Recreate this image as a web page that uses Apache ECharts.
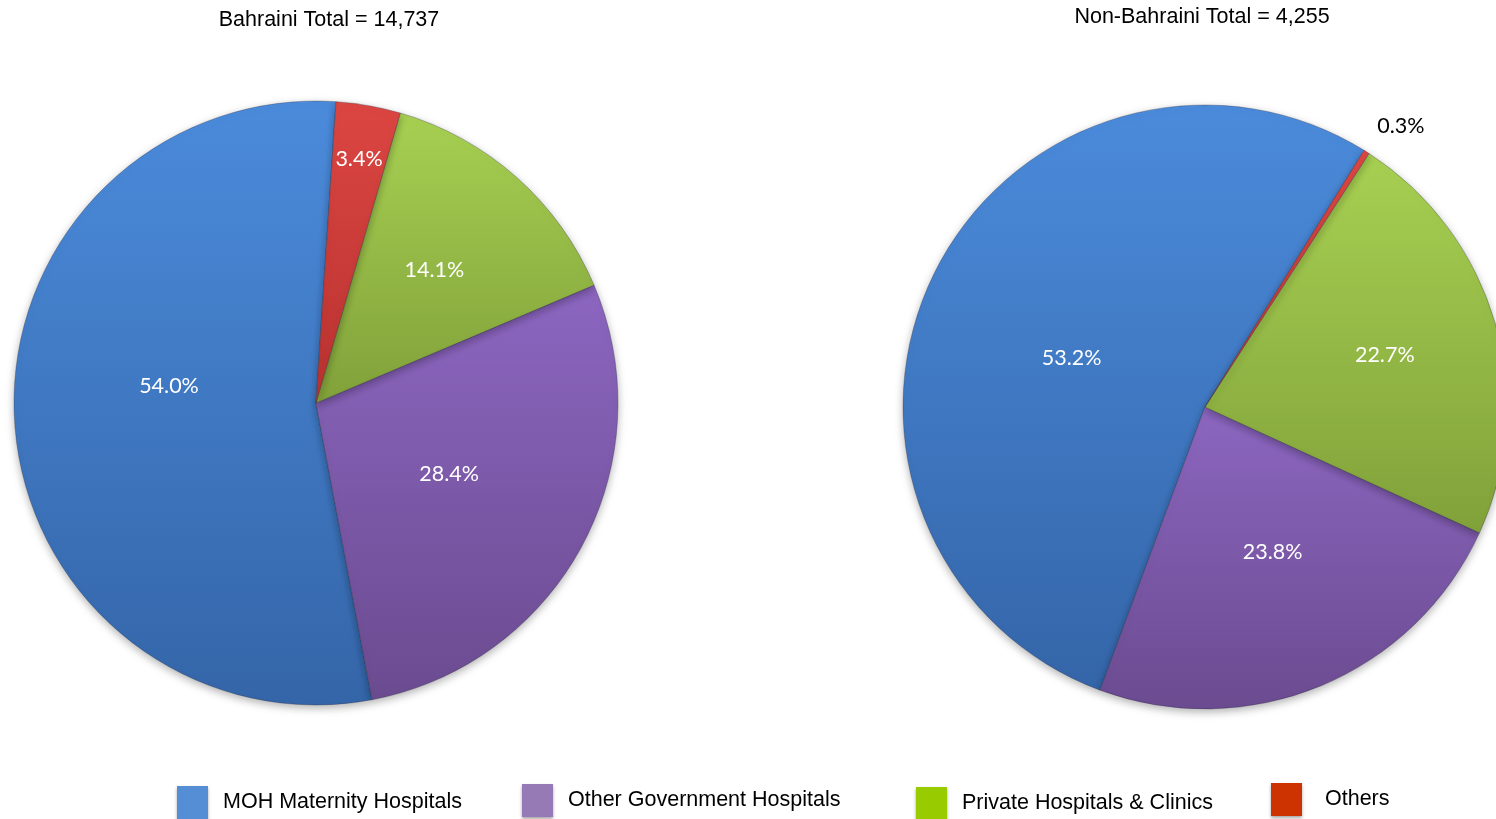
<!DOCTYPE html>
<html>
<head>
<meta charset="utf-8"/>
<title>Births by place of delivery</title>
<script src="https://cdn.jsdelivr.net/npm/echarts@6/dist/echarts.min.js"></script>
<style>
  html, body { margin: 0; padding: 0; background: #fff; }
  #main { width: 1496px; height: 819px; }
</style>
</head>
<body>
<div id="main"></div>
<script>
// categories + values
const categories = ['MOH Maternity Hospitals', 'Other Government Hospitals', 'Private Hospitals & Clinics', 'Others']
const bahrainiValues = [7962, 4187, 2080, 508]
const nonBahrainiValues = [2263, 1013, 966, 13]
const titles = ['Bahraini Total = 14,737', 'Non-Bahraini Total = 4,255']

// slice shading (top -> bottom) and flat legend swatches
const sliceTop = ['#4b8bdb', '#8c66c0', '#a7d052', '#dc4642']
const sliceBottom = ['#3465a8', '#6b4b90', '#81a13a', '#b83230']
const legendColors = ['#558ed5', '#957ab6', '#99cc00', '#cc3300']

// where each % label sits: fraction of radius, and angle nudge (deg)
const labelRadius = [[0.49, 0.5, 0.59, 0.82], [0.47, 0.53, 0.62, 1.135]]
const labelShift = [[-10, 0, 0, 0], [6, 2.5, 0, -2.5]]

const pieCenters = [[316, 403], [1205, 407]]
const pieStart = [86.2, 58.2]
const R = 302

const chart = echarts.init(document.getElementById('main'))

function grad(i) {
    return {
        type: 'linear', x: 0, y: 0, x2: 0, y2: 1,
        colorStops: [{ offset: 0, color: sliceTop[i] }, { offset: 1, color: sliceBottom[i] }]
    }
}

function makeData(values, outsideIdx) {
    return values.map((v, i) => {
        const item = { name: categories[i], value: v, itemStyle: { color: grad(i) } }
        if (i === outsideIdx) {
            item.label = { color: '#000' }
        }
        return item
    })
}

function pieSeries(s, values, outsideIdx) {
    const total = values.reduce((a, b) => a + b, 0)
    return {
        type: 'pie',
        center: pieCenters[s],
        radius: R,
        startAngle: pieStart[s],
        clockwise: false,
        animation: false,
        avoidLabelOverlap: false,
        itemStyle: {
            borderColor: 'rgba(40,40,60,0.3)',
            borderWidth: 1,
            shadowBlur: 8,
            shadowOffsetY: 3,
            shadowColor: 'rgba(0,0,0,0.3)'
        },
        label: {
            show: true,
            position: 'inside',
            color: '#fff',
            fontFamily: 'Lato',
            fontSize: 21.5,
            formatter: p => (p.value / total * 100).toFixed(1) + '%'
        },
        labelLine: { show: false },
        labelLayout: p => {
            let before = 0
            for (let k = 0; k < p.dataIndex; k++) before += values[k]
            const mid = pieStart[s] + (before + values[p.dataIndex] / 2) / total * 360 + labelShift[s][p.dataIndex]
            const a = mid * Math.PI / 180
            const r = R * labelRadius[s][p.dataIndex]
            return {
                x: pieCenters[s][0] + r * Math.cos(a),
                y: pieCenters[s][1] - r * Math.sin(a),
                align: 'center',
                verticalAlign: 'middle'
            }
        },
        emphasis: { disabled: true },
        data: makeData(values, outsideIdx)
    }
}

const legendLeft = [177, 522, 916, 1271]
const legendTop = [786, 784, 787, 783]
const legendGap = [15, 15, 15, 23]

const titleStyle = { fontFamily: 'Liberation Sans', fontSize: 21.5, fontWeight: 'normal', color: '#000' }

const option = {
    backgroundColor: '#fff',
    title: [
        { text: titles[0], left: 324, top: 4, textAlign: 'center', textStyle: titleStyle },
        { text: titles[1], left: 1197, top: 1, textAlign: 'center', textStyle: titleStyle }
    ],
    legend: categories.map((c, i) => ({
        left: legendLeft[i],
        top: legendTop[i],
        orient: 'horizontal',
        icon: 'rect',
        itemWidth: 31,
        itemHeight: 33,
        itemGap: 0,
        padding: 0,
        selectedMode: false,
        textStyle: { fontFamily: 'Liberation Sans', fontSize: 21.5, color: '#000', padding: [0, 0, 0, legendGap[i] - 5] },
        data: [{ name: c, itemStyle: { color: legendColors[i], borderWidth: 0, shadowBlur: 3, shadowOffsetY: 2, shadowColor: 'rgba(0,0,0,0.35)' } }]
    })),
    series: [
        pieSeries(0, bahrainiValues, -1),
        pieSeries(1, nonBahrainiValues, 3)
    ]
}

chart.setOption(option)
</script>
</body>
</html>
